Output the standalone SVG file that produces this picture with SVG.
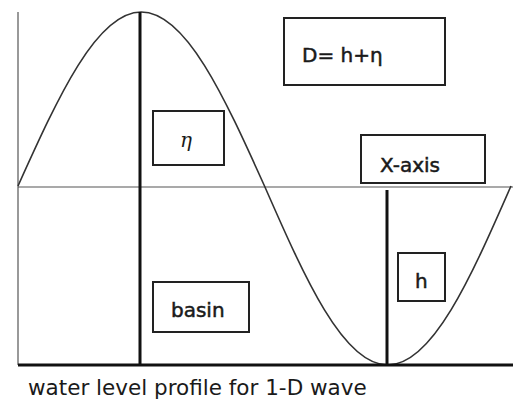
<svg xmlns="http://www.w3.org/2000/svg" width="513" height="403" viewBox="0 0 513 403">
<style>
.box{fill:#fff;stroke:#222;stroke-width:2}
.lbl{font-family:"DejaVu Sans",sans-serif;font-size:20px;fill:#1a1a1a;stroke:#1a1a1a;stroke-width:0.5}
.thin{stroke:#555;stroke-width:1.2;fill:none}
.thick{stroke:#111;stroke-width:3;fill:none}
.wave{stroke:#333;stroke-width:1.6;fill:none}
</style>
<rect width="513" height="403" fill="#fff"/>
<g id="connectors">
<line class="thin" x1="18" y1="12" x2="18" y2="365"/>
<line class="thin" x1="18" y1="187" x2="513" y2="187"/>
<path class="wave" d="M18,186 C58.2,96.9 96.6,12 141.25,12 C185.9,12 224.3,96.9 264.5,186 C304.7,277.7 343.1,365 387.75,365 C432.4,365 470.8,277.7 511,186"/>
<line class="thick" x1="140" y1="12" x2="140" y2="366"/>
<line class="thick" x1="387" y1="190" x2="387" y2="366"/>
<line class="thick" x1="18" y1="365" x2="513" y2="365"/>
</g>
<g id="node-D">
<rect class="box" x="284" y="18" width="161" height="67"/>
<text class="lbl" x="302" y="62">D= h+η</text>
</g>
<g id="node-eta">
<rect class="box" x="153" y="111" width="71" height="54"/>
<text x="180" y="147" style="font-family:'DejaVu Serif',serif;font-style:italic;font-size:20px;fill:#1a1a1a">η</text>
</g>
<g id="node-xaxis">
<rect class="box" x="361" y="135" width="124" height="48"/>
<text class="lbl" x="380" y="172">X-axis</text>
</g>
<g id="node-h">
<rect class="box" x="398" y="253" width="47" height="48"/>
<text class="lbl" x="415" y="288">h</text>
</g>
<g id="node-basin">
<rect class="box" x="153" y="282" width="96" height="50"/>
<text class="lbl" x="171" y="317">basin</text>
</g>
<text x="28" y="395" style="font-family:'DejaVu Sans',sans-serif;font-size:21.5px;fill:#1a1a1a">water level profile for 1-D wave</text>
</svg>
